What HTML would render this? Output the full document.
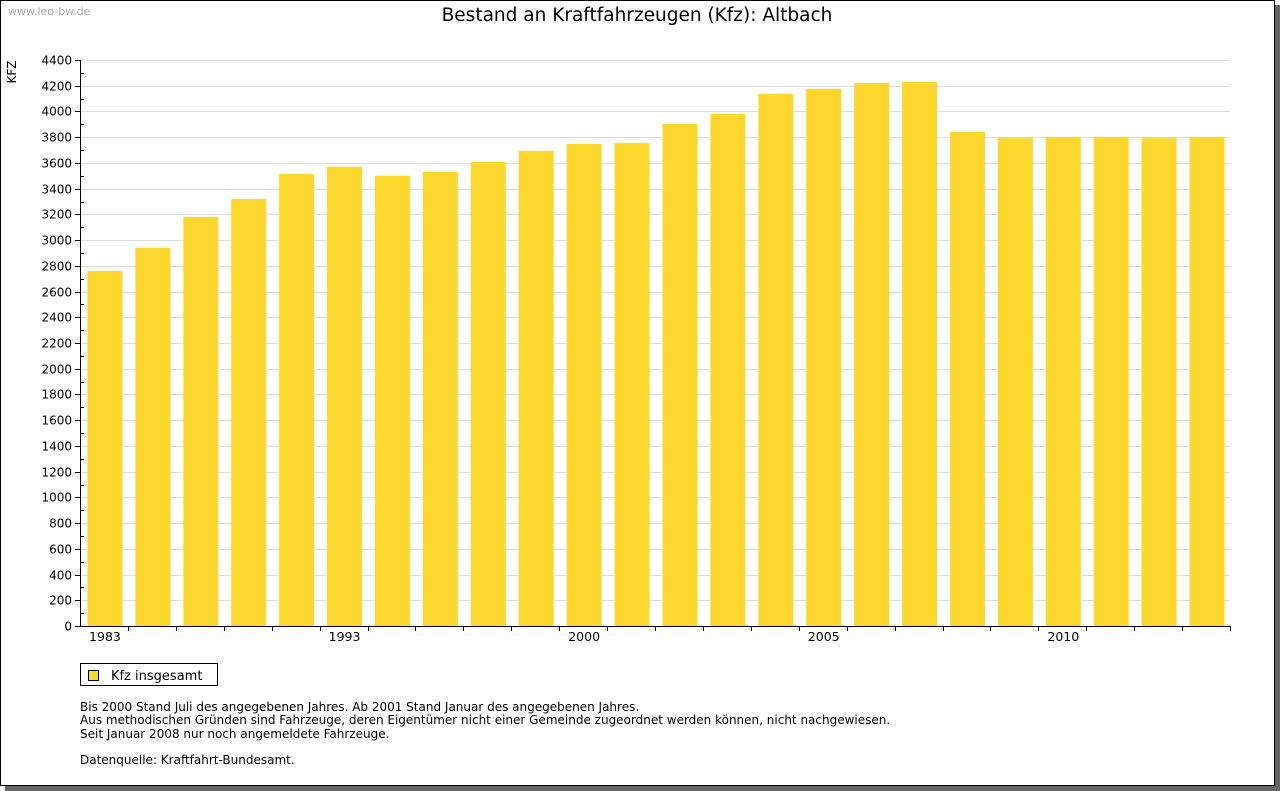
<!DOCTYPE html>
<html><head><meta charset="utf-8">
<style>
body{margin:0;background:#fff;font-family:"DejaVu Sans","Liberation Sans",sans-serif;}
#frame{position:absolute;left:0;top:0;width:1273px;height:784px;border:1px solid #000;background:#fff;box-shadow:5px 5px 0 #666;}
</style></head>
<body>
<div id="frame"></div>
<svg id="chart" width="1280" height="791" style="position:absolute;left:0;top:0">
<text x="8" y="15" font-size="11" fill="#aaa">www.leo-bw.de</text>
<text x="637" y="21" font-size="18.5" text-anchor="middle" fill="#000">Bestand an Kraftfahrzeugen (Kfz): Altbach</text>
<text transform="translate(16,72) rotate(-90)" font-size="12" text-anchor="middle">KFZ</text>
<g id="grid"></g><g id="bars"></g><g id="axes"></g>
<g>
<rect x="80.5" y="663.5" width="137" height="22" fill="#fff" stroke="#000"/>
<rect x="88.5" y="670.5" width="10" height="10" fill="#fdd72e" stroke="#000"/>
<text x="111" y="680" font-size="13">Kfz insgesamt</text>
</g>
<g font-size="12">
<text x="80" y="711">Bis 2000 Stand Juli des angegebenen Jahres. Ab 2001 Stand Januar des angegebenen Jahres.</text>
<text x="80" y="724">Aus methodischen Gründen sind Fahrzeuge, deren Eigentümer nicht einer Gemeinde zugeordnet werden können, nicht nachgewiesen.</text>
<text x="80" y="738">Seit Januar 2008 nur noch angemeldete Fahrzeuge.</text>
<text x="80" y="764">Datenquelle: Kraftfahrt-Bundesamt.</text>
</g>
</svg>
<script>
const categories=["1983","1985","1987","1989","1991","1993","1995","1997","1998","1999","2000","2001","2002","2003","2004","2005","2006","2007","2008","2009","2010","2011","2012","2013"];
const values=[2760,2940,3180,3320,3515,3570,3500,3530,3608,3694,3748,3756,3904,3981,4137,4176,4222,4230,3841,3795,3802,3802,3795,3802];
const shownLabels=["1983","1993","2000","2005","2010"];
const yTicks=[0,200,400,600,800,1000,1200,1400,1600,1800,2000,2200,2400,2600,2800,3000,3200,3400,3600,3800,4000,4200,4400];
const NS="http://www.w3.org/2000/svg";
const X0=80,X1=1230,Y0=626,Y1=60,YMAX=4400;
const band=(X1-X0)/categories.length;
const y=v=>Y0-(v/YMAX)*(Y0-Y1);
const x=i=>X0+band*i;
function mk(tag,attrs,parent){const e=document.createElementNS(NS,tag);for(const k in attrs)e.setAttribute(k,attrs[k]);document.getElementById(parent).appendChild(e);return e;}
yTicks.forEach(t=>{
 const yy=Math.round(y(t))+0.5;
 if(t>0){const g=mk('line',{x1:X0,x2:X1,y1:yy,y2:yy,stroke:'#ddd'},'grid');
 
 }
 const tk=mk('line',{x1:X0-5,x2:X0,y1:yy,y2:yy,stroke:'#000'},'axes');
 
 
 const lb=mk('text',{x:X0-8,y:yy+4,'font-size':12,'text-anchor':'end'},'axes');
 lb.textContent=t;
 
 
 if(t<YMAX){const ym=Math.round(y(t+100))+0.5;
 const m=mk('line',{x1:X0,x2:X0+4,y1:ym,y2:ym,stroke:'#000'},'axes');
 
 }
});
values.forEach((v,i)=>{
 const w=35,cx=x(i)+band/2+1;
 const r=mk('rect',{x:cx-w/2,y:y(v),width:w,height:Y0-y(v),fill:'#fdd72e'},'bars');
 
 
 if(i>0){const tk=mk('line',{x1:Math.round(x(i))+0.5,x2:Math.round(x(i))+0.5,y1:Y0,y2:Y0+5,stroke:'#000'},'axes');
 
 }
 if(shownLabels.includes(categories[i])){
 const lb=mk('text',{x:cx,y:Y0+15,'font-size':12.5,'text-anchor':'middle'},'axes');
 lb.textContent=categories[i];
 
 }
});
const ya=mk('line',{x1:X0+0.5,x2:X0+0.5,y1:Y1,y2:Y0+1,stroke:'#000'},'axes');


const xa=mk('line',{x1:X0,x2:X1+1,y1:Y0+0.5,y2:Y0+0.5,stroke:'#000'},'axes');


const xe=mk('line',{x1:X1+0.5,x2:X1+0.5,y1:Y0,y2:Y0+5,stroke:'#000'},'axes');


</script>
</body></html>
